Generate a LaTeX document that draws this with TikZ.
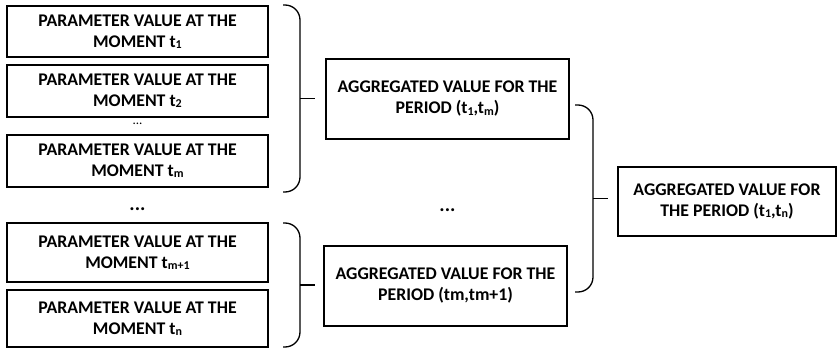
\documentclass[tikz,border=0pt]{standalone}
\usepackage{fontspec}
\setmainfont{Carlito}
\usetikzlibrary{positioning}

% small lowered index, as t1, tm, tn
\newcommand{\lowidx}[1]{\raisebox{-0.08em}{\fontsize{12}{12}\selectfont #1}}

\tikzset{
  valbox/.style={draw, line width=1.6pt, align=center, inner sep=0pt,
    font=\bfseries\fontsize{17.8}{21}\selectfont},
  grpbrace/.style={line width=1.3pt, rounded corners=15pt},
  grptick/.style={line width=1.3pt},
}

\begin{document}
\begin{tikzpicture}[x=1pt, y=-1pt]

\useasboundingbox (0,0) rectangle (838,350);

% Parameter values (left column)
\node[valbox, minimum width=261pt, minimum height=51pt] (p1) at (137.5,31.5)
  {PARAMETER VALUE AT THE\\MOMENT t\lowidx{1}};
\node[valbox, minimum width=261pt, minimum height=52pt] (p2) at (137.5,91)
  {PARAMETER VALUE AT THE\\MOMENT t\lowidx{2}};
\node[font=\fontsize{13}{13}\selectfont] (dots1) at (137.5,124) {...};
\node[valbox, minimum width=261pt, minimum height=52pt] (p3) at (137.5,161)
  {PARAMETER VALUE AT THE\\MOMENT t\lowidx{m}};
\node[font=\bfseries\fontsize{20}{20}\selectfont] (dots2) at (137.5,209) {...};
\node[valbox, minimum width=261pt, minimum height=59pt] (p4) at (137.5,252.5)
  {PARAMETER VALUE AT THE\\MOMENT t\lowidx{m+1}};
\node[valbox, minimum width=261pt, minimum height=57pt] (p5) at (137.5,318.5)
  {PARAMETER VALUE AT THE\\MOMENT t\lowidx{n}};

% Aggregated values (middle column)
\node[valbox, minimum width=243pt, minimum height=80pt] (agg1) at (447.5,99)
  {AGGREGATED VALUE FOR THE\\PERIOD (t\lowidx{1},t\lowidx{m})};
\node[font=\bfseries\fontsize{20}{20}\selectfont] (dots3) at (447.5,210) {...};
\node[valbox, minimum width=243pt, minimum height=80pt] (agg2) at (445.5,286)
  {AGGREGATED VALUE FOR THE\\PERIOD (tm,tm+1)};

% Total (right)
\node[valbox, minimum width=218pt, minimum height=69pt] (total) at (727,201.5)
  {AGGREGATED VALUE FOR\\THE PERIOD (t\lowidx{1},t\lowidx{n})};

% Braces
\coordinate (b1) at (300,98.5);
\coordinate (b2) at (300,285);
\coordinate (b3) at (593,198.5);

\draw[grpbrace] (283,5) -- (300,5) -- (300,192) -- (283,192);
\draw[grptick] (b1) -- ++(15,0);

\draw[grpbrace] (283,223) -- (300,223) -- (300,347) -- (283,347);
\draw[grptick] (b2) -- ++(15,0);

\draw[grpbrace] (575,105) -- (593,105) -- (593,292) -- (575,292);
\draw[grptick] (b3) -- ++(15,0);

\end{tikzpicture}
\end{document}
